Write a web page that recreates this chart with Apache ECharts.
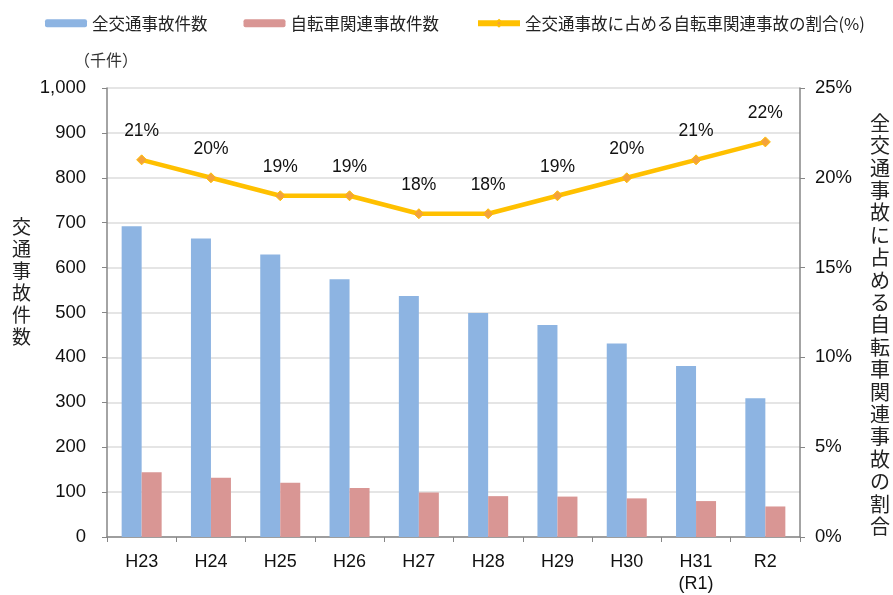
<!DOCTYPE html>
<html>
<head>
<meta charset="utf-8">
<script src="https://cdn.jsdelivr.net/npm/echarts@6/dist/echarts.min.js"></script>
<style>
  html, body { margin: 0; padding: 0; background: #fff; }
  #main { width: 893px; height: 595px; }
</style>
</head>
<body>
<div id="main"></div>
<script>
// 年度
var years = ['H23', 'H24', 'H25', 'H26', 'H27', 'H28', 'H29', 'H30', 'H31\n(R1)', 'R2'];
// 全交通事故件数（千件）
var allAccidents = [692, 665, 629, 574, 537, 499, 472, 431, 381, 309];
// 自転車関連事故件数（千件）
var bikeAccidents = [144, 132, 121, 109, 99, 91, 90, 86, 80, 68];
// 自転車関連事故の割合（%）
var bikeRatio = [21, 20, 19, 19, 18, 18, 19, 20, 21, 22];

var names = ['全交通事故件数', '自転車関連事故件数', '全交通事故に占める自転車関連事故の割合(%)'];
var leftName = '交通事故件数';
var rightName = '全交通事故に占める自転車関連事故の割合';

var jp = '"Noto Sans CJK JP", sans-serif';
var num = '"Liberation Sans", Arial, sans-serif';

// 縦書き用に1文字ずつ改行
function vertical(s) {
  return s.split('').join('\n');
}

var chart = echarts.init(document.getElementById('main'));

var option = {
  animation: false,
  textStyle: { fontFamily: jp },
  legend: {
    data: [
      { name: names[0] },
      { name: names[1] },
      { name: names[2], lineStyle: { width: 6 } }
    ],
    top: 10,
    left: 40,
    width: 853,
    itemWidth: 42,
    itemHeight: 8,
    itemGap: 36,
    textStyle: { fontSize: 16.5, color: '#222', fontFamily: jp }
  },
  grid: {
    left: 107,
    right: 93,
    top: 88,
    bottom: 57
  },
  graphic: [{
    type: 'text',
    left: 74,
    top: 52,
    style: { text: '（千件）', fontSize: 16, fill: '#333', fontFamily: jp }
  }, {
    type: 'text',
    left: 12,
    top: 216,
    style: { text: vertical(leftName), fontSize: 19, lineHeight: 22, fill: '#222', fontFamily: jp }
  }, {
    type: 'text',
    left: 870,
    top: 112,
    style: { text: vertical(rightName), fontSize: 20, lineHeight: 22.4, fill: '#222', fontFamily: jp }
  }],
  xAxis: {
    type: 'category',
    data: years,
    axisLine: { lineStyle: { color: '#868686', width: 1.5 } },
    axisTick: { show: true, length: 5, lineStyle: { color: '#868686' } },
    axisLabel: { color: '#111', fontSize: 18, fontFamily: num, margin: 14, lineHeight: 22 }
  },
  yAxis: [{
    type: 'value',
    min: 0,
    max: 1000,
    interval: 100,
    axisLine: { show: true, lineStyle: { color: '#868686', width: 1.5 } },
    axisTick: { show: true, length: 5, lineStyle: { color: '#868686' } },
    axisLabel: {
      color: '#111', fontSize: 18.5, fontFamily: num, margin: 21,
      formatter: function (v) { return v.toLocaleString('en-US'); }
    },
    splitLine: { lineStyle: { color: '#dcdcdc', width: 1.5 } }
  }, {
    type: 'value',
    min: 0,
    max: 25,
    interval: 5,
    axisLine: { show: true, lineStyle: { color: '#868686', width: 1.5 } },
    axisTick: { show: true, length: 5, lineStyle: { color: '#868686' } },
    axisLabel: { color: '#111', fontSize: 18.5, fontFamily: num, margin: 15, formatter: '{value}%' },
    splitLine: { show: false }
  }],
  series: [{
    name: names[0],
    type: 'bar',
    data: allAccidents,
    barWidth: 20,
    barGap: '0%',
    itemStyle: { color: '#8DB4E2' }
  }, {
    name: names[1],
    type: 'bar',
    data: bikeAccidents,
    barWidth: 20,
    itemStyle: { color: '#D99694' }
  }, {
    name: names[2],
    type: 'line',
    yAxisIndex: 1,
    data: bikeRatio,
    symbol: 'diamond',
    symbolSize: 10,
    lineStyle: { color: '#FFC000', width: 4.5 },
    itemStyle: { color: '#F4A23C', borderColor: '#FFC000', borderWidth: 1 },
    label: {
      show: true,
      position: 'top',
      distance: 14,
      formatter: '{c}%',
      color: '#111',
      fontSize: 17.5,
      fontFamily: num
    },
    z: 5
  }]
};

chart.setOption(option);
</script>
</body>
</html>
